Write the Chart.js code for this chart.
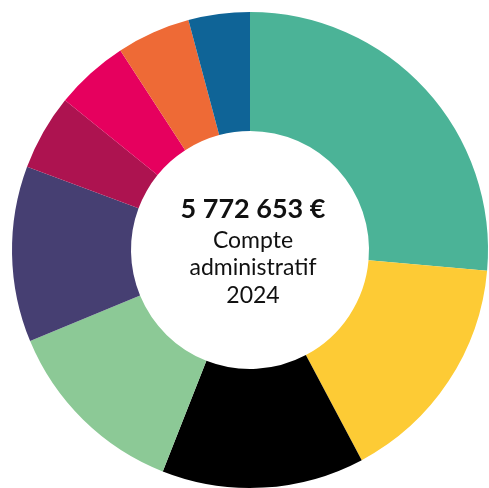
<!DOCTYPE html>
<html>
<head>
<meta charset="utf-8">
<script src="https://cdn.jsdelivr.net/npm/chart.js@4"></script>
<style>
  html, body { margin: 0; padding: 0; background: #fff; overflow: hidden; }
  #wrap { position: absolute; left: 0; top: 0; width: 500px; height: 500px; }
</style>
</head>
<body>
<div id="wrap"><canvas id="myChart"></canvas></div>
<script>
// postes du compte administratif 2024 (montants estimés d'après le graphique)
var labels = ['Poste 1', 'Poste 2', 'Poste 3', 'Poste 4', 'Poste 5', 'Poste 6', 'Poste 7', 'Poste 8', 'Poste 9'];
var values = [1523339, 914003, 793740, 737617, 689511, 296650, 288633, 288633, 240527];
var colors = ['#4bb397', '#fdcb35', '#000000', '#8cc996', '#463f72', '#ad1350', '#e6005e', '#ee6a36', '#0f6497'];
var centerLines = ['5 772 653 €', 'Compte', 'administratif', '2024'];

var centerText = {
    id: 'centerText',
    afterDraw: function (chart) {
        var ctx = chart.ctx;
        var meta = chart.getDatasetMeta(0).data[0];
        var x = meta.x + 3, y = meta.y;
        ctx.save();
        ctx.textAlign = 'center';
        ctx.textBaseline = 'alphabetic';
        ctx.fillStyle = '#111';
        ctx.font = 'bold 27px Lato, "Open Sans", sans-serif';
        ctx.fillText(centerLines[0], x, y - 32);
        ctx.font = '400 23px Lato, "Open Sans", sans-serif';
        ctx.fillText(centerLines[1], x, y - 2);
        ctx.fillText(centerLines[2], x, y + 25);
        ctx.fillText(centerLines[3], x, y + 53);
        ctx.restore();
    }
};

var ctx = document.getElementById('myChart').getContext('2d');
var myChart = new Chart(ctx, {
    type: 'doughnut',
    data: {
        labels: labels,
        datasets: [{
            data: values,
            backgroundColor: colors,
            borderWidth: 0
        }]
    },
    options: {
        responsive: true,
        maintainAspectRatio: false,
        animation: false,
        cutout: '50%',
        layout: { padding: 12 },
        plugins: {
            legend: { display: false },
            tooltip: { enabled: false }
        }
    },
    plugins: [centerText]
});
</script>
</body>
</html>
